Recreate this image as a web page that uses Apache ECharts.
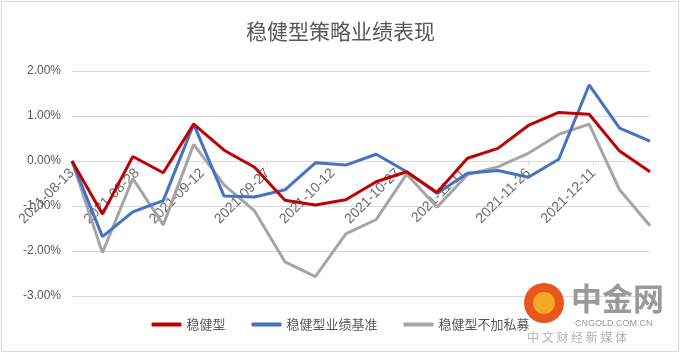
<!DOCTYPE html>
<html><head><meta charset="utf-8">
<script src="https://cdn.jsdelivr.net/npm/echarts@6/dist/echarts.min.js"></script>
<style>html,body{margin:0;padding:0;background:#fff}#c{width:681px;height:354px}</style>
</head><body><div id="c"></div>
<script>
const titleText = '稳健型策略业绩表现';
const dates = ['2021-08-13','2021-08-20','2021-08-27','2021-09-03','2021-09-10','2021-09-17','2021-09-24','2021-10-01','2021-10-08','2021-10-15','2021-10-22','2021-10-29','2021-11-05','2021-11-12','2021-11-19','2021-11-26','2021-12-03','2021-12-10','2021-12-17','2021-12-24'];
const seriesNames = ['稳健型','稳健型业绩基准','稳健型不加私募'];
const steady = [0,-1.18,0.10,-0.26,0.82,0.24,-0.14,-0.87,-0.98,-0.86,-0.46,-0.24,-0.70,0.06,0.28,0.79,1.08,1.04,0.22,-0.24];
const benchmark = [0,-1.68,-1.13,-0.88,0.82,-0.78,-0.80,-0.64,-0.04,-0.09,0.15,-0.24,-0.72,-0.27,-0.21,-0.36,0.04,1.69,0.73,0.44];
const noPrivate = [0,-2.04,-0.39,-1.42,0.37,-0.53,-1.11,-2.24,-2.57,-1.62,-1.30,-0.29,-1.03,-0.30,-0.13,0.17,0.59,0.82,-0.64,-1.44];
const yTicks = [-3,-2,-1,0,1,2];
const colors = ['#C00000','#4472C4','#A5A5A5'];

const DAY = 86400000;
const base = Date.UTC(2021,7,13);
function dayOf(s){const p=s.split('-');return Math.round((Date.UTC(+p[0],+p[1]-1,+p[2])-base)/DAY);}
function fmt(d){const t=new Date(base+d*DAY);const m=t.getUTCMonth()+1,dd=t.getUTCDate();return t.getUTCFullYear()+'-'+(m<10?'0':'')+m+'-'+(dd<10?'0':'')+dd;}
const xs = dates.map(dayOf);
const mk = arr => arr.map((v,i)=>[xs[i],v]);
const allData=[steady,benchmark,noPrivate];

const gridTop=71, gridBottom=58, H=354;
const yMin=yTicks[0], yMax=yTicks[yTicks.length-1];
const plotH=H-gridTop-gridBottom;
const zeroOffset=-plotH*(0-yMin)/(yMax-yMin);

const chart = echarts.init(document.getElementById('c'));
chart.setOption({
  animation:false,
  backgroundColor:'#fff',
  title:{text:titleText,left:'center',top:16,textStyle:{fontSize:21,fontWeight:'normal',color:'#595959',fontFamily:'Noto Sans CJK SC'}},
  grid:{left:72,right:31,top:gridTop,bottom:gridBottom},
  legend:{bottom:18,left:'center',itemGap:26,itemWidth:30,itemHeight:4,icon:'roundRect',
    textStyle:{color:'#595959',fontSize:13,fontFamily:'Noto Sans CJK SC'},data:seriesNames},
  xAxis:{type:'value',min:0,max:xs[xs.length-1],interval:15,offset:zeroOffset,z:0,
    axisLine:{onZero:false,lineStyle:{color:'#D9D9D9'}},
    axisTick:{show:true,length:4,lineStyle:{color:'#D9D9D9'}},
    splitLine:{show:false},
    axisLabel:{rotate:45,margin:10,color:'#6B6B6B',fontSize:14,fontFamily:'Liberation Sans',showMaxLabel:false,
      formatter:v=>(v%15===0?fmt(v):'')}},
  yAxis:{type:'value',min:yMin,max:yMax,interval:1,
    axisLine:{show:false},axisTick:{show:false},
    splitLine:{lineStyle:{color:'#D9D9D9'}},
    axisLabel:{margin:11,color:'#595959',fontSize:12,fontFamily:'Liberation Sans',formatter:v=>v.toFixed(2)+'%'}},
  series:seriesNames.map((n,i)=>({name:n,type:'line',data:mk(allData[i]),showSymbol:false,symbol:'none',
    lineStyle:{width:3,color:colors[i]},itemStyle:{color:colors[i]},z:5-i})),
  graphic:[
    {type:'rect',shape:{x:1.5,y:1.5,width:677,height:350},style:{fill:null,stroke:'#D9D9D9',lineWidth:1},silent:true},
    {type:'circle',shape:{cx:544,cy:303,r:20},style:{fill:'#E8551E'},z:10},
    {type:'circle',shape:{cx:544,cy:303,r:11},style:{fill:'#F7A823'},z:11},
    {type:'text',left:571,top:283,style:{text:'中金网',fill:'#9A9A9A',font:'bold 31px "Noto Sans CJK SC"'},z:10},
    {type:'text',left:575,top:319,style:{text:'CNGOLD.COM.CN',fill:'#9A9A9A',font:'9px "Liberation Sans"'},z:10},
    {type:'text',left:527,top:331,style:{text:'中 文 财 经 新 媒 体',fill:'#B0B0B0',font:'12px "Noto Sans CJK SC"'},z:10}
  ]
});
</script></body></html>
